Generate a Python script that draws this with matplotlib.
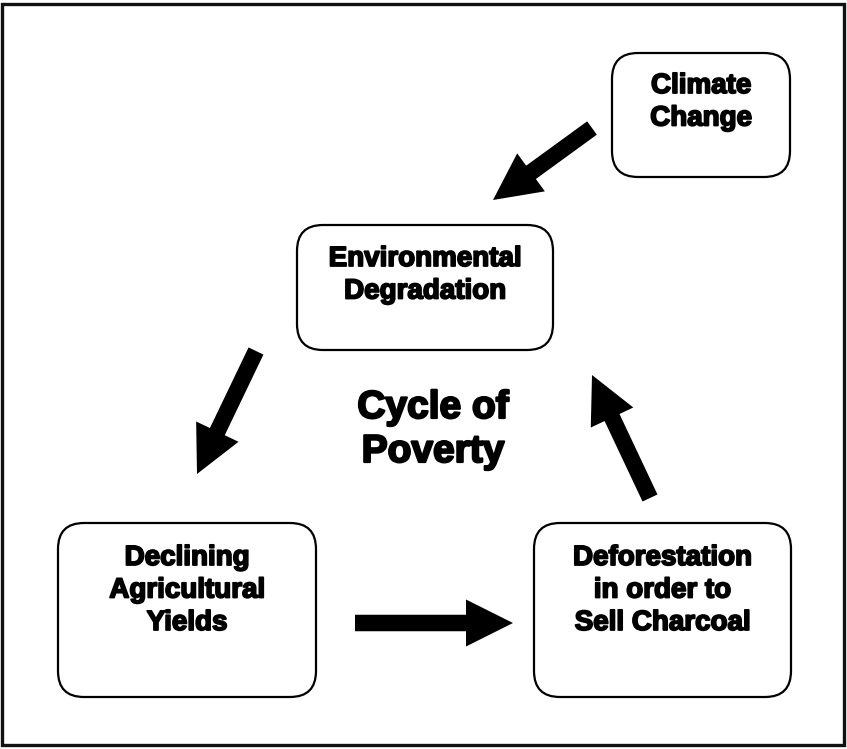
import matplotlib
matplotlib.use("Agg")
import matplotlib.pyplot as plt
import matplotlib.patheffects as pe
from matplotlib.patches import FancyBboxPatch, FancyArrow, Rectangle

# box labels and their extents (pixel units, y grows downward)
labels = ["Climate\nChange",
          "Environmental\nDegradation",
          "Declining\nAgricultural\nYields",
          "Deforestation\nin order to\nSell Charcoal"]
box_left = [612, 297, 58, 534]
box_top = [53, 225, 523, 523]
box_right = [790, 553, 316, 791]
box_bottom = [177, 350, 697, 697]
first_baseline = [93, 266, 565, 565]
line_step = 32.5

# arrows: tail -> tip
arrow_from = [(592, 128), (256, 351), (355, 623), (650, 498)]
arrow_to = [(493, 200), (197, 474), (513, 623), (592, 375)]

title = "Cycle of\nPoverty"
title_baselines = [418, 462]

W, H = 847, 749
fig = plt.figure(figsize=(W / 100, H / 100), dpi=100)
ax = fig.add_axes([0, 0, 1, 1])
ax.set_xlim(0, W)
ax.set_ylim(H, 0)
ax.axis("off")

font = dict(family=["Liberation Sans", "DejaVu Sans"], fontweight="bold")

# outer frame
ax.add_patch(Rectangle((2, 4), 842, 741, fill=False, lw=2.4, ec="#111111"))

for lab, l, t, r, b, y0 in zip(labels, box_left, box_top, box_right, box_bottom, first_baseline):
    ax.add_patch(FancyBboxPatch((l, t), r - l, b - t,
                                boxstyle="round,pad=0,rounding_size=26",
                                fc="white", ec="black", lw=1.6))
    for i, line in enumerate(lab.split("\n")):
        ax.text((l + r) / 2, y0 + i * line_step, line, ha="center", va="baseline",
                fontsize=20, **font,
                path_effects=[pe.withStroke(linewidth=1.3, foreground="black")])

for (x0, y0), (x1, y1) in zip(arrow_from, arrow_to):
    ax.add_patch(FancyArrow(x0, y0, x1 - x0, y1 - y0, width=16.5,
                            head_width=47, head_length=47,
                            length_includes_head=True, fc="black", ec="black", lw=0))

for line, yb in zip(title.split("\n"), title_baselines):
    ax.text(433, yb, line, ha="center", va="baseline", fontsize=28, **font,
            path_effects=[pe.withStroke(linewidth=1.6, foreground="black")])

fig.savefig("out.png", dpi=100)
